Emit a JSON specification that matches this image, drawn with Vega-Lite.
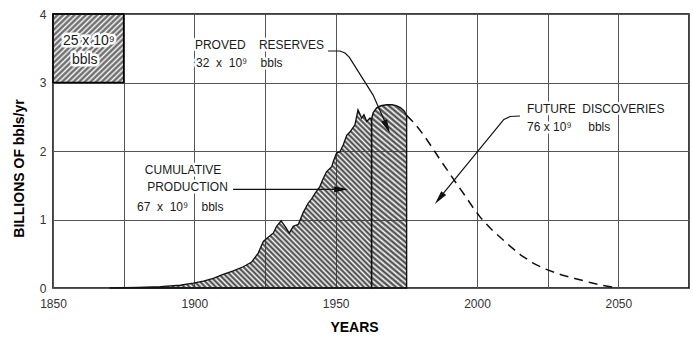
{
"$schema": "https://vega.github.io/schema/vega-lite/v6.json",
"width": 636, "height": 274,
"autosize": {"type": "none"},
"padding": {"left": 53, "top": 14, "right": 4, "bottom": 49},
"background": "white",
"config": {"view": {"stroke": "black", "strokeWidth": 1.5}, "font": "Liberation Sans"},
"datasets": {
"prod": [{"year":1870,"v":0},{"year":1880,"v":0.008},{"year":1888,"v":0.02},{"year":1895,"v":0.04},{"year":1899.6,"v":0.07},{"year":1903.2,"v":0.1},{"year":1906.7,"v":0.14},{"year":1910.2,"v":0.2},{"year":1913.8,"v":0.25},{"year":1917.3,"v":0.31},{"year":1920.3,"v":0.38},{"year":1922.6,"v":0.51},{"year":1924.4,"v":0.68},{"year":1925.8,"v":0.73},{"year":1927.9,"v":0.8},{"year":1929.1,"v":0.9},{"year":1930.7,"v":0.98},{"year":1932.1,"v":0.9},{"year":1933.6,"v":0.8},{"year":1935,"v":0.9},{"year":1936.8,"v":0.93},{"year":1938.5,"v":1.1},{"year":1940.3,"v":1.24},{"year":1941.5,"v":1.3},{"year":1942.7,"v":1.38},{"year":1944.4,"v":1.48},{"year":1945.6,"v":1.6},{"year":1946.8,"v":1.7},{"year":1948.6,"v":1.77},{"year":1949.1,"v":1.84},{"year":1950.3,"v":1.97},{"year":1951.5,"v":1.99},{"year":1952.7,"v":2.09},{"year":1953.9,"v":2.23},{"year":1955.1,"v":2.28},{"year":1956.8,"v":2.38},{"year":1957.9,"v":2.6},{"year":1959.2,"v":2.48},{"year":1960,"v":2.53},{"year":1961,"v":2.43},{"year":1962.1,"v":2.48},{"year":1962.7,"v":2.47}],
"res": [{"year":1962.7,"v":2.47},{"year":1963.3,"v":2.56},{"year":1964.5,"v":2.63},{"year":1966,"v":2.66},{"year":1968,"v":2.675},{"year":1970,"v":2.675},{"year":1971.6,"v":2.66},{"year":1973,"v":2.63},{"year":1974.3,"v":2.58},{"year":1975.1,"v":2.52}],
"fut": [{"year":1975.1,"v":2.52},{"year":1978,"v":2.4},{"year":1981,"v":2.24},{"year":1984,"v":2.06},{"year":1987,"v":1.87},{"year":1990.5,"v":1.66},{"year":1993.5,"v":1.48},{"year":1996.4,"v":1.31},{"year":1999,"v":1.15},{"year":2001.4,"v":1.02},{"year":2005,"v":0.86},{"year":2008.5,"v":0.73},{"year":2012,"v":0.6},{"year":2015.5,"v":0.48},{"year":2020,"v":0.36},{"year":2024,"v":0.28},{"year":2030,"v":0.19},{"year":2034.6,"v":0.14},{"year":2040,"v":0.08},{"year":2044.2,"v":0.04},{"year":2050,"v":0}],
"box": [{"year":1850,"year2":1875,"v":3,"v2":4}],
"labels": [
{"year":1900.2,"v":3.547,"text":"PROVED\u00a0\u00a0\u00a0\u00a0RESERVES"},
{"year":1900.6,"v":3.285,"text":"32\u00a0\u00a0x\u00a0\u00a010⁹\u00a0\u00a0\u00a0\u00a0bbls"},
{"year":1882.5,"v":1.723,"text":"CUMULATIVE"},
{"year":1883.3,"v":1.474,"text":"PRODUCTION"},
{"year":1879.7,"v":1.18,"text":"67\u00a0\u00a0x\u00a0\u00a010⁹\u00a0\u00a0\u00a0\u00a0bbls"},
{"year":2017.7,"v":2.62,"text":"FUTURE\u00a0\u00a0DISCOVERIES"},
{"year":2017.7,"v":2.35,"text":"76 x 10⁹\u00a0\u00a0\u00a0\u00a0\u00a0bbls"}],
"boxlabels": [{"year":1853.5,"v":3.606,"text":"25 x 10⁹"},{"year":1856.7,"v":3.328,"text":"bbls"}],
"arrows": [
{"id":"pr","i":0,"year":1947.3,"v":3.46},{"id":"pr","i":1,"year":1951.5,"v":3.46},{"id":"pr","i":2,"year":1953.3,"v":3.43},{"id":"pr","i":3,"year":1954.8,"v":3.37},{"id":"pr","i":4,"year":1963.2,"v":2.82},{"id":"pr","i":5,"year":1968.5,"v":2.33},
{"id":"cp","i":0,"year":1913.7,"v":1.44},{"id":"cp","i":1,"year":1953.5,"v":1.44},
{"id":"fd","i":0,"year":2015.2,"v":2.511},{"id":"fd","i":1,"year":2011.7,"v":2.504},{"id":"fd","i":2,"year":2009.5,"v":2.46},{"id":"fd","i":3,"year":2008.5,"v":2.41},{"id":"fd","i":4,"year":1986.2,"v":1.285}],
"heads": [{"id":"pr","year":1969.2,"v":2.26},{"id":"cp","year":1954.4,"v":1.44},{"id":"fd","year":1985.1,"v":1.226}]
},
"encoding": {
"x": {"field":"year","type":"quantitative","scale":{"domain":[1850,2075],"nice":false,"zero":false},
 "axis":{"values":[1850,1875,1900,1925,1950,1975,2000,2025,2050,2075],"labelExpr":"datum.value % 50 === 0 && datum.value < 2060 ? '' + datum.value : ''","title":"YEARS","grid":true,"gridColor":"#555","gridWidth":1,"domain":false,"ticks":false,"tickSize":0,"labelPadding":10,"labelFontSize":12,"labelColor":"#333","labelFont":"Liberation Sans","labelFlush":false,"labelOverlap":false,"titleFont":"Liberation Sans","titleFontSize":14,"titleFontWeight":"bold","titleColor":"black","titleX":301,"titleY":39,"titleBaseline":"middle","titleAlign":"center"}},
"y": {"field":"v","type":"quantitative","scale":{"domain":[0,4],"nice":false},
 "axis":{"values":[0,1,2,3,4],"format":"d","title":"BILLIONS OF bbls/yr","grid":true,"gridColor":"#555","gridWidth":1,"domain":false,"ticks":false,"tickSize":0,"labelPadding":7,"labelFontSize":12,"labelColor":"#333","labelFont":"Liberation Sans","labelFlush":false,"titleFont":"Liberation Sans","titleFontSize":14,"titleFontWeight":"bold","titleColor":"black","titleX":-34,"titleY":154,"titleAngle":-90,"titleBaseline":"middle","titleAlign":"center"}}
},
"layer": [
{"data":{"name":"box"},"mark":{"type":"rect","stroke":"black","strokeWidth":1.5,"fill":{"gradient":"linear","x1":0,"y1":0,"x2":1,"y2":1,"stops":[
{"offset":0,"color":"#666"},{"offset":0.02,"color":"transparent"},{"offset":0.04,"color":"#666"},{"offset":0.06,"color":"transparent"},{"offset":0.08,"color":"#666"},{"offset":0.1,"color":"transparent"},{"offset":0.12,"color":"#666"},{"offset":0.14,"color":"transparent"},{"offset":0.16,"color":"#666"},{"offset":0.18,"color":"transparent"},{"offset":0.2,"color":"#666"},{"offset":0.22,"color":"transparent"},{"offset":0.24,"color":"#666"},{"offset":0.26,"color":"transparent"},{"offset":0.28,"color":"#666"},{"offset":0.3,"color":"transparent"},{"offset":0.32,"color":"#666"},{"offset":0.34,"color":"transparent"},{"offset":0.36,"color":"#666"},{"offset":0.38,"color":"transparent"},{"offset":0.4,"color":"#666"},{"offset":0.42,"color":"transparent"},{"offset":0.44,"color":"#666"},{"offset":0.46,"color":"transparent"},{"offset":0.48,"color":"#666"},{"offset":0.5,"color":"transparent"},{"offset":0.52,"color":"#666"},{"offset":0.54,"color":"transparent"},{"offset":0.56,"color":"#666"},{"offset":0.58,"color":"transparent"},{"offset":0.6,"color":"#666"},{"offset":0.62,"color":"transparent"},{"offset":0.64,"color":"#666"},{"offset":0.66,"color":"transparent"},{"offset":0.68,"color":"#666"},{"offset":0.7,"color":"transparent"},{"offset":0.72,"color":"#666"},{"offset":0.74,"color":"transparent"},{"offset":0.76,"color":"#666"},{"offset":0.78,"color":"transparent"},{"offset":0.8,"color":"#666"},{"offset":0.82,"color":"transparent"},{"offset":0.84,"color":"#666"},{"offset":0.86,"color":"transparent"},{"offset":0.88,"color":"#666"},{"offset":0.9,"color":"transparent"},{"offset":0.92,"color":"#666"},{"offset":0.94,"color":"transparent"},{"offset":0.96,"color":"#666"},{"offset":0.98,"color":"transparent"},{"offset":1,"color":"#666"}]}},
 "encoding":{"x2":{"field":"year2"},"y2":{"field":"v2"}}},
{"data":{"name":"prod"},"mark":{"type":"area","interpolate":"linear","stroke":"#111","strokeWidth":1.3,"fill":{"gradient":"linear","x1":1,"y1":0,"x2":-0.149,"y2":0.781,"stops":[
{"offset":0,"color":"#444"},{"offset":0.006,"color":"transparent"},{"offset":0.012,"color":"#444"},{"offset":0.018,"color":"transparent"},{"offset":0.024,"color":"#444"},{"offset":0.03,"color":"transparent"},{"offset":0.036,"color":"#444"},{"offset":0.042,"color":"transparent"},{"offset":0.048,"color":"#444"},{"offset":0.054,"color":"transparent"},{"offset":0.06,"color":"#444"},{"offset":0.066,"color":"transparent"},{"offset":0.072,"color":"#444"},{"offset":0.078,"color":"transparent"},{"offset":0.084,"color":"#444"},{"offset":0.09,"color":"transparent"},{"offset":0.096,"color":"#444"},{"offset":0.102,"color":"transparent"},{"offset":0.108,"color":"#444"},{"offset":0.114,"color":"transparent"},{"offset":0.12,"color":"#444"},{"offset":0.126,"color":"transparent"},{"offset":0.132,"color":"#444"},{"offset":0.138,"color":"transparent"},{"offset":0.144,"color":"#444"},{"offset":0.15,"color":"transparent"},{"offset":0.156,"color":"#444"},{"offset":0.162,"color":"transparent"},{"offset":0.168,"color":"#444"},{"offset":0.174,"color":"transparent"},{"offset":0.18,"color":"#444"},{"offset":0.186,"color":"transparent"},{"offset":0.192,"color":"#444"},{"offset":0.198,"color":"transparent"},{"offset":0.204,"color":"#444"},{"offset":0.21,"color":"transparent"},{"offset":0.216,"color":"#444"},{"offset":0.222,"color":"transparent"},{"offset":0.228,"color":"#444"},{"offset":0.234,"color":"transparent"},{"offset":0.24,"color":"#444"},{"offset":0.246,"color":"transparent"},{"offset":0.252,"color":"#444"},{"offset":0.258,"color":"transparent"},{"offset":0.264,"color":"#444"},{"offset":0.27,"color":"transparent"},{"offset":0.276,"color":"#444"},{"offset":0.282,"color":"transparent"},{"offset":0.288,"color":"#444"},{"offset":0.294,"color":"transparent"},{"offset":0.3,"color":"#444"},{"offset":0.306,"color":"transparent"},{"offset":0.312,"color":"#444"},{"offset":0.318,"color":"transparent"},{"offset":0.324,"color":"#444"},{"offset":0.33,"color":"transparent"},{"offset":0.336,"color":"#444"},{"offset":0.342,"color":"transparent"},{"offset":0.348,"color":"#444"},{"offset":0.354,"color":"transparent"},{"offset":0.36,"color":"#444"},{"offset":0.366,"color":"transparent"},{"offset":0.372,"color":"#444"},{"offset":0.378,"color":"transparent"},{"offset":0.384,"color":"#444"},{"offset":0.39,"color":"transparent"},{"offset":0.396,"color":"#444"},{"offset":0.402,"color":"transparent"},{"offset":0.408,"color":"#444"},{"offset":0.414,"color":"transparent"},{"offset":0.42,"color":"#444"},{"offset":0.426,"color":"transparent"},{"offset":0.432,"color":"#444"},{"offset":0.438,"color":"transparent"},{"offset":0.444,"color":"#444"},{"offset":0.45,"color":"transparent"},{"offset":0.456,"color":"#444"},{"offset":0.462,"color":"transparent"},{"offset":0.468,"color":"#444"},{"offset":0.474,"color":"transparent"},{"offset":0.48,"color":"#444"},{"offset":0.486,"color":"transparent"},{"offset":0.492,"color":"#444"},{"offset":0.498,"color":"transparent"},{"offset":0.504,"color":"#444"},{"offset":0.51,"color":"transparent"},{"offset":0.516,"color":"#444"},{"offset":0.522,"color":"transparent"},{"offset":0.528,"color":"#444"},{"offset":0.534,"color":"transparent"},{"offset":0.54,"color":"#444"},{"offset":0.546,"color":"transparent"},{"offset":0.552,"color":"#444"},{"offset":0.558,"color":"transparent"},{"offset":0.564,"color":"#444"},{"offset":0.57,"color":"transparent"},{"offset":0.576,"color":"#444"},{"offset":0.582,"color":"transparent"},{"offset":0.588,"color":"#444"},{"offset":0.594,"color":"transparent"},{"offset":0.6,"color":"#444"},{"offset":0.606,"color":"transparent"},{"offset":0.612,"color":"#444"},{"offset":0.618,"color":"transparent"},{"offset":0.624,"color":"#444"},{"offset":0.63,"color":"transparent"},{"offset":0.636,"color":"#444"},{"offset":0.642,"color":"transparent"},{"offset":0.648,"color":"#444"},{"offset":0.654,"color":"transparent"},{"offset":0.66,"color":"#444"},{"offset":0.666,"color":"transparent"},{"offset":0.672,"color":"#444"},{"offset":0.678,"color":"transparent"},{"offset":0.684,"color":"#444"},{"offset":0.69,"color":"transparent"},{"offset":0.696,"color":"#444"},{"offset":0.702,"color":"transparent"},{"offset":0.708,"color":"#444"},{"offset":0.714,"color":"transparent"},{"offset":0.72,"color":"#444"},{"offset":0.726,"color":"transparent"},{"offset":0.732,"color":"#444"},{"offset":0.738,"color":"transparent"},{"offset":0.744,"color":"#444"},{"offset":0.75,"color":"transparent"},{"offset":0.756,"color":"#444"},{"offset":0.762,"color":"transparent"},{"offset":0.768,"color":"#444"},{"offset":0.774,"color":"transparent"},{"offset":0.78,"color":"#444"},{"offset":0.786,"color":"transparent"},{"offset":0.792,"color":"#444"},{"offset":0.798,"color":"transparent"},{"offset":0.804,"color":"#444"},{"offset":0.81,"color":"transparent"},{"offset":0.816,"color":"#444"},{"offset":0.822,"color":"transparent"},{"offset":0.828,"color":"#444"},{"offset":0.834,"color":"transparent"},{"offset":0.84,"color":"#444"},{"offset":0.846,"color":"transparent"},{"offset":0.852,"color":"#444"},{"offset":0.858,"color":"transparent"},{"offset":0.864,"color":"#444"},{"offset":0.87,"color":"transparent"},{"offset":0.876,"color":"#444"},{"offset":0.882,"color":"transparent"},{"offset":0.888,"color":"#444"},{"offset":0.894,"color":"transparent"},{"offset":0.9,"color":"#444"},{"offset":0.906,"color":"transparent"},{"offset":0.912,"color":"#444"},{"offset":0.918,"color":"transparent"},{"offset":0.924,"color":"#444"},{"offset":0.93,"color":"transparent"},{"offset":0.936,"color":"#444"},{"offset":0.942,"color":"transparent"},{"offset":0.948,"color":"#444"},{"offset":0.954,"color":"transparent"},{"offset":0.96,"color":"#444"},{"offset":0.966,"color":"transparent"},{"offset":0.972,"color":"#444"},{"offset":0.978,"color":"transparent"},{"offset":0.984,"color":"#444"},{"offset":0.99,"color":"transparent"},{"offset":0.996,"color":"#444"},{"offset":1,"color":"transparent"}]}},
 "encoding":{}},
{"data":{"name":"res"},"mark":{"type":"area","interpolate":"linear","stroke":"#111","strokeWidth":1.4,"fill":{"gradient":"linear","x1":1,"y1":0,"x2":0.819,"y2":1.131,"stops":[
{"offset":0,"color":"#444"},{"offset":0.0125,"color":"transparent"},{"offset":0.025,"color":"#444"},{"offset":0.0375,"color":"transparent"},{"offset":0.05,"color":"#444"},{"offset":0.0625,"color":"transparent"},{"offset":0.075,"color":"#444"},{"offset":0.0875,"color":"transparent"},{"offset":0.1,"color":"#444"},{"offset":0.1125,"color":"transparent"},{"offset":0.125,"color":"#444"},{"offset":0.1375,"color":"transparent"},{"offset":0.15,"color":"#444"},{"offset":0.1625,"color":"transparent"},{"offset":0.175,"color":"#444"},{"offset":0.1875,"color":"transparent"},{"offset":0.2,"color":"#444"},{"offset":0.2125,"color":"transparent"},{"offset":0.225,"color":"#444"},{"offset":0.2375,"color":"transparent"},{"offset":0.25,"color":"#444"},{"offset":0.2625,"color":"transparent"},{"offset":0.275,"color":"#444"},{"offset":0.2875,"color":"transparent"},{"offset":0.3,"color":"#444"},{"offset":0.3125,"color":"transparent"},{"offset":0.325,"color":"#444"},{"offset":0.3375,"color":"transparent"},{"offset":0.35,"color":"#444"},{"offset":0.3625,"color":"transparent"},{"offset":0.375,"color":"#444"},{"offset":0.3875,"color":"transparent"},{"offset":0.4,"color":"#444"},{"offset":0.4125,"color":"transparent"},{"offset":0.425,"color":"#444"},{"offset":0.4375,"color":"transparent"},{"offset":0.45,"color":"#444"},{"offset":0.4625,"color":"transparent"},{"offset":0.475,"color":"#444"},{"offset":0.4875,"color":"transparent"},{"offset":0.5,"color":"#444"},{"offset":0.5125,"color":"transparent"},{"offset":0.525,"color":"#444"},{"offset":0.5375,"color":"transparent"},{"offset":0.55,"color":"#444"},{"offset":0.5625,"color":"transparent"},{"offset":0.575,"color":"#444"},{"offset":0.5875,"color":"transparent"},{"offset":0.6,"color":"#444"},{"offset":0.6125,"color":"transparent"},{"offset":0.625,"color":"#444"},{"offset":0.6375,"color":"transparent"},{"offset":0.65,"color":"#444"},{"offset":0.6625,"color":"transparent"},{"offset":0.675,"color":"#444"},{"offset":0.6875,"color":"transparent"},{"offset":0.7,"color":"#444"},{"offset":0.7125,"color":"transparent"},{"offset":0.725,"color":"#444"},{"offset":0.7375,"color":"transparent"},{"offset":0.75,"color":"#444"},{"offset":0.7625,"color":"transparent"},{"offset":0.775,"color":"#444"},{"offset":0.7875,"color":"transparent"},{"offset":0.8,"color":"#444"},{"offset":0.8125,"color":"transparent"},{"offset":0.825,"color":"#444"},{"offset":0.8375,"color":"transparent"},{"offset":0.85,"color":"#444"},{"offset":0.8625,"color":"transparent"},{"offset":0.875,"color":"#444"},{"offset":0.8875,"color":"transparent"},{"offset":0.9,"color":"#444"},{"offset":0.9125,"color":"transparent"},{"offset":0.925,"color":"#444"},{"offset":0.9375,"color":"transparent"},{"offset":0.95,"color":"#444"},{"offset":0.9625,"color":"transparent"},{"offset":0.975,"color":"#444"},{"offset":0.9875,"color":"transparent"},{"offset":1,"color":"#444"}]}},
 "encoding":{}},
{"data":{"name":"fut"},"mark":{"type":"line","stroke":"#111","strokeWidth":1.5,"strokeDash":[9,6]},"encoding":{}},
{"data":{"name":"labels"},"mark":{"type":"text","align":"left","baseline":"middle","font":"Liberation Sans","fontSize":12,"fill":"white","stroke":"white","strokeWidth":5,"strokeJoin":"round"},"encoding":{"text":{"field":"text"}}},
{"data":{"name":"labels"},"mark":{"type":"text","align":"left","baseline":"middle","font":"Liberation Sans","fontSize":12,"fill":"#1a1a1a"},"encoding":{"text":{"field":"text"}}},
{"data":{"name":"boxlabels"},"mark":{"type":"text","align":"left","baseline":"middle","font":"Liberation Sans","fontSize":14,"fill":"white","stroke":"white","strokeWidth":5,"strokeJoin":"round"},"encoding":{"text":{"field":"text"}}},
{"data":{"name":"boxlabels"},"mark":{"type":"text","align":"left","baseline":"middle","font":"Liberation Sans","fontSize":14,"fill":"#1a1a1a"},"encoding":{"text":{"field":"text"}}},
{"data":{"name":"arrows"},"mark":{"type":"line","stroke":"#111","strokeWidth":1.2},"encoding":{"detail":{"field":"id"},"order":{"field":"i","type":"quantitative"}}},
{"data":{"name":"heads"},"transform":[{"filter":"datum.id === 'pr'"}],"mark":{"type":"point","shape":"M0,0L0.45,2L-0.45,2Z","filled":true,"color":"#111","opacity":1,"size":196,"angle":155,"strokeWidth":0}},
{"data":{"name":"heads"},"transform":[{"filter":"datum.id === 'cp'"}],"mark":{"type":"point","shape":"M0,0L0.45,2L-0.45,2Z","filled":true,"color":"#111","opacity":1,"size":196,"angle":90,"strokeWidth":0}},
{"data":{"name":"heads"},"transform":[{"filter":"datum.id === 'fd'"}],"mark":{"type":"point","shape":"M0,0L0.45,2L-0.45,2Z","filled":true,"color":"#111","opacity":1,"size":196,"angle":219,"strokeWidth":0}}
]
}
